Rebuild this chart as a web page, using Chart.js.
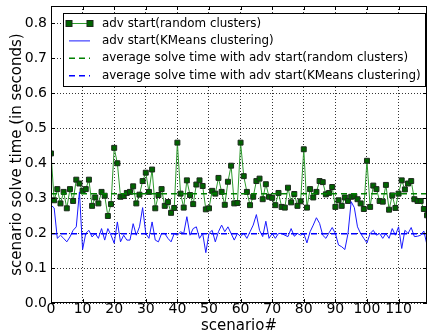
<!DOCTYPE html>
<html>
<head>
<meta charset="utf-8">
<script src="https://cdn.jsdelivr.net/npm/chart.js@4.4.0/dist/chart.umd.min.js"></script>
<style>
  html, body { margin: 0; padding: 0; background: #fff; }
  #wrap { width: 428px; height: 333px; }
</style>
</head>
<body>
<div id="wrap"><canvas id="chart"></canvas></div>
<script>
// solve time per scenario, adv start with random clusters
const randomClusters = [
  0.428, 0.294, 0.326, 0.285, 0.318, 0.271, 0.326, 0.292, 0.353, 0.342,
  0.321, 0.326, 0.353, 0.278, 0.302, 0.285, 0.318, 0.307, 0.249, 0.283,
  0.444, 0.400, 0.304, 0.306, 0.315, 0.318, 0.334, 0.285, 0.310, 0.349,
  0.373, 0.318, 0.382, 0.271, 0.309, 0.326, 0.278, 0.289, 0.258, 0.272,
  0.459, 0.313, 0.273, 0.351, 0.309, 0.283, 0.339, 0.351, 0.335, 0.268,
  0.271, 0.321, 0.313, 0.358, 0.318, 0.281, 0.347, 0.393, 0.285, 0.286,
  0.459, 0.363, 0.318, 0.280, 0.304, 0.349, 0.356, 0.297, 0.340, 0.304,
  0.301, 0.280, 0.315, 0.275, 0.273, 0.330, 0.288, 0.312, 0.278, 0.291,
  0.440, 0.273, 0.326, 0.302, 0.318, 0.349, 0.346, 0.311, 0.315, 0.332,
  0.275, 0.294, 0.278, 0.302, 0.292, 0.304, 0.306, 0.297, 0.285, 0.269,
  0.407, 0.275, 0.336, 0.326, 0.292, 0.290, 0.338, 0.267, 0.308, 0.272,
  0.313, 0.351, 0.325, 0.342, 0.349, 0.297, 0.292, 0.292, 0.269, 0.251
];
// solve time per scenario, adv start with KMeans clustering
const kmeansClusters = [
  0.280, 0.272, 0.185, 0.194, 0.185, 0.175, 0.189, 0.208, 0.218, 0.318,
  0.153, 0.199, 0.208, 0.189, 0.199, 0.185, 0.213, 0.180, 0.213, 0.194,
  0.171, 0.232, 0.175, 0.194, 0.180, 0.180, 0.227, 0.194, 0.218, 0.273,
  0.199, 0.185, 0.232, 0.180, 0.175, 0.199, 0.199, 0.185, 0.175, 0.199,
  0.194, 0.204, 0.199, 0.247, 0.194, 0.213, 0.218, 0.185, 0.199, 0.144,
  0.199, 0.208, 0.175, 0.204, 0.223, 0.204, 0.218, 0.199, 0.180, 0.199,
  0.190, 0.199, 0.185, 0.204, 0.223, 0.253, 0.208, 0.190, 0.234, 0.185,
  0.199, 0.185, 0.199, 0.199, 0.194, 0.190, 0.213, 0.191, 0.199, 0.194,
  0.199, 0.172, 0.204, 0.223, 0.244, 0.228, 0.194, 0.185, 0.201, 0.216,
  0.199, 0.166, 0.161, 0.153, 0.199, 0.290, 0.273, 0.218, 0.199, 0.185,
  0.172, 0.199, 0.208, 0.194, 0.199, 0.185, 0.199, 0.185, 0.213, 0.194,
  0.218, 0.156, 0.208, 0.199, 0.216, 0.190, 0.191, 0.194, 0.206, 0.166
];
const avgRandom = 0.313;
const avgKmeans = 0.198;

const xTicks = [0, 10, 20, 30, 40, 50, 60, 70, 80, 90, 100, 110];
const yTicks = [0.0, 0.1, 0.2, 0.3, 0.4, 0.5, 0.6, 0.7, 0.8];
const xMax = 119;
const yMax = 0.85;

const labels = [
  'adv start(random clusters)',
  'adv start(KMeans clustering)',
  'average solve time with adv start(random clusters)',
  'average solve time with adv start(KMeans clustering)'
];

const toPoints = arr => arr.map((v, i) => ({ x: i, y: v }));
const flat = v => [{ x: 0, y: v }, { x: xMax, y: v }];

const FONT = 'DejaVu Sans';

// legend box in the upper part of the plot, like matplotlib
const legendBox = {
  id: 'legendBox',
  afterDraw(c) {
    const ctx = c.ctx;
    const a = c.chartArea;
    const x0 = a.left + 12, y0 = a.top + 7, w = 362, h = 73;
    ctx.save();
    ctx.fillStyle = '#fff';
    ctx.strokeStyle = '#000';
    ctx.lineWidth = 1;
    ctx.fillRect(x0, y0, w, h);
    ctx.strokeRect(x0 + 0.5, y0 + 0.5, w, h);
    ctx.font = '11.9px ' + FONT;
    ctx.textBaseline = 'middle';
    c.data.datasets.forEach((ds, i) => {
      const y = y0 + 10.5 + i * 17.4;
      ctx.strokeStyle = ds.borderColor;
      ctx.lineWidth = ds.borderWidth;
      ctx.setLineDash(ds.borderDash || []);
      ctx.beginPath();
      ctx.moveTo(x0 + 6, y);
      ctx.lineTo(x0 + 27, y);
      ctx.stroke();
      ctx.setLineDash([]);
      if (ds.pointRadius > 0) {
        [x0 + 6, x0 + 27].forEach(px => {
          ctx.fillStyle = ds.pointBackgroundColor;
          ctx.strokeStyle = ds.pointBorderColor;
          ctx.lineWidth = 1;
          ctx.fillRect(px - 3, y - 3, 6, 6);
          ctx.strokeRect(px - 3, y - 3, 6, 6);
        });
      }
      ctx.fillStyle = '#000';
      ctx.fillText(ds.label, x0 + 39, y);
    });
    ctx.restore();
  }
};

// axes frame with inward ticks on all four sides
const frame = {
  id: 'frame',
  afterDatasetsDraw(c) {
    const ctx = c.ctx;
    const a = c.chartArea;
    const sx = c.scales.x, sy = c.scales.y;
    ctx.save();
    ctx.strokeStyle = '#000';
    ctx.lineWidth = 1;
    ctx.strokeRect(a.left + 0.5, a.top + 0.5, a.right - a.left - 1, a.bottom - a.top - 1);
    ctx.beginPath();
    xTicks.forEach(t => {
      const px = Math.round(sx.getPixelForValue(t)) + 0.5;
      ctx.moveTo(px, a.bottom); ctx.lineTo(px, a.bottom - 4);
      ctx.moveTo(px, a.top); ctx.lineTo(px, a.top + 4);
    });
    yTicks.forEach(t => {
      const py = Math.round(sy.getPixelForValue(t)) + 0.5;
      ctx.moveTo(a.left, py); ctx.lineTo(a.left + 4, py);
      ctx.moveTo(a.right, py); ctx.lineTo(a.right - 4, py);
    });
    ctx.stroke();
    ctx.restore();
  }
};

new Chart(document.getElementById('chart'), {
  type: 'line',
  data: {
    datasets: [
      {
        label: labels[0],
        data: toPoints(randomClusters),
        borderColor: '#2e9a2e',
        borderWidth: 1,
        pointStyle: 'rect',
        pointRadius: 3.5,
        pointBackgroundColor: '#006400',
        pointBorderColor: '#1c2a1c',
        pointBorderWidth: 1,
        order: 4
      },
      {
        label: labels[1],
        data: toPoints(kmeansClusters),
        borderColor: '#1a1aff',
        borderWidth: 1,
        pointRadius: 0,
        order: 3
      },
      {
        label: labels[2],
        data: flat(avgRandom),
        borderColor: '#008000',
        borderWidth: 1.5,
        borderDash: [6, 4],
        pointRadius: 0,
        order: 2
      },
      {
        label: labels[3],
        data: flat(avgKmeans),
        borderColor: '#0000ff',
        borderWidth: 1.5,
        borderDash: [6, 4],
        pointRadius: 0,
        order: 1
      }
    ]
  },
  options: {
    responsive: true,
    maintainAspectRatio: false,
    animation: false,
    layout: { autoPadding: false, padding: { top: 6, right: 1, left: 0, bottom: 0 } },
    plugins: { legend: { display: false }, tooltip: { enabled: false } },
    elements: { line: { tension: 0 } },
    scales: {
      x: {
        type: 'linear',
        min: 0,
        max: xMax,
        afterFit: s => { s.height = 30; s.paddingLeft = 0; s.paddingRight = 0; },
        afterBuildTicks: s => { s.ticks = xTicks.map(v => ({ value: v })); },
        ticks: { font: { family: FONT, size: 14 }, color: '#000', padding: -2, maxRotation: 0, autoSkip: false },
        grid: { color: '#000', lineWidth: 0.8, drawTicks: false },
        border: { display: false, dash: [1, 2] },
        title: { display: true, text: 'scenario#', font: { family: FONT, size: 15, lineHeight: 1 }, color: '#000', padding: { top: 0, bottom: -1 } }
      },
      y: {
        min: 0,
        max: yMax,
        afterFit: s => { s.width = 51; s.paddingTop = 0; s.paddingBottom = 0; },
        afterBuildTicks: s => { s.ticks = yTicks.map(v => ({ value: v })); },
        ticks: { font: { family: FONT, size: 14 }, color: '#000', padding: 4, callback: v => v.toFixed(1) },
        grid: { color: '#000', lineWidth: 0.8, drawTicks: false },
        border: { display: false, dash: [1, 2] },
        title: { display: true, text: 'scenario solve time (in seconds)', font: { family: FONT, size: 15, lineHeight: 1 }, color: '#000', padding: { top: 10, bottom: 0 } }
      }
    }
  },
  plugins: [frame, legendBox]
});
</script>
</body>
</html>
